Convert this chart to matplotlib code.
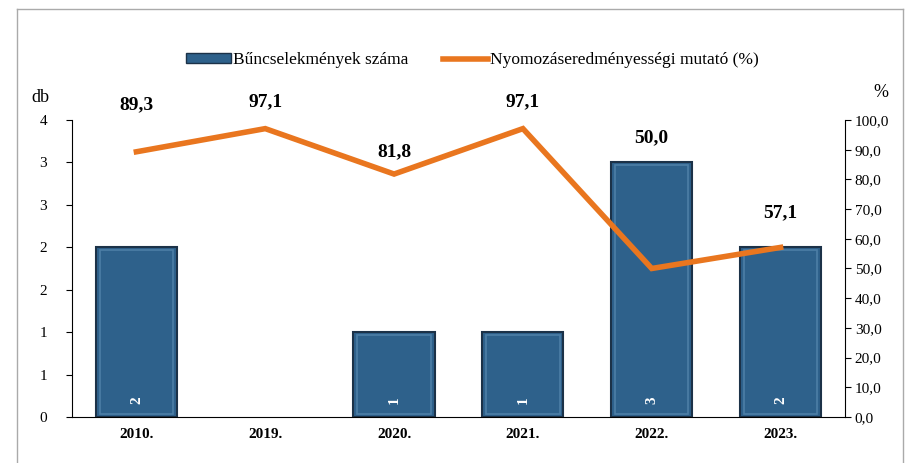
import matplotlib.pyplot as plt
import numpy as np
from matplotlib.patches import Rectangle
from matplotlib.lines import Line2D

# adatok
years = ["2010.", "2019.", "2020.", "2021.", "2022.", "2023."]
crimes = [2, 0, 1, 1, 3, 2]
rate = [89.3, 97.1, 81.8, 97.1, 50.0, 57.1]
left_ticks = [0, 0.5, 1, 1.5, 2, 2.5, 3, 3.5]
left_ticklabels = ["0", "1", "1", "2", "2", "3", "3", "4"]
right_ticks = [0, 10, 20, 30, 40, 50, 60, 70, 80, 90, 100]
# a vonal címkéinek eltolása (pont)
label_dy = [34, 19, 16, 19, 94, 25]

plt.rcParams['font.family'] = ['Liberation Serif', 'DejaVu Serif']

bar_col = '#2e618b'
line_col = '#e9761f'

fig = plt.figure(figsize=(9.08, 4.63), dpi=100)
ax = fig.add_axes([0.0793, 0.0994, 0.8513, 0.6414])
ax2 = ax.twinx()

x = np.arange(len(years))
lws = [1.5 if c > 0 else 0 for c in crimes]
bars = ax.bar(x, crimes, width=0.63, color=bar_col, edgecolor='#1c3248', linewidth=lws, zorder=2)
# kis "bevel" hatás
for b in bars:
    if b.get_height() > 0:
        bx, by = b.get_x(), b.get_y()
        w, h = b.get_width(), b.get_height()
        ax.add_patch(Rectangle((bx + 0.03, by + 0.03), w - 0.06, h - 0.06, fill=False,
                               edgecolor='#4d7ea6', linewidth=1.2, zorder=3))
        ax.text(b.get_x() + w / 2, 0.2, str(int(h)), rotation=90, color='white',
                ha='center', va='center', fontsize=11, fontweight='bold', zorder=4)

ax.set_xlim(-0.5, len(years) - 0.5)
ax.set_ylim(0, 3.5)
ax.set_yticks(left_ticks)
ax.set_yticklabels(left_ticklabels)
ax.set_xticks(x)
ax.set_xticklabels(years, fontweight='bold', fontsize=11)
ax.tick_params(axis='x', length=0, pad=8)
ax.tick_params(axis='y', labelsize=11, length=4, direction='out', pad=14)
ax.spines['top'].set_visible(False)
ax.spines['right'].set_visible(False)

ax2.plot(x, rate, color=line_col, linewidth=4, solid_joinstyle='miter', zorder=5)
ax2.set_ylim(0, 100)
ax2.set_yticks(right_ticks)
ax2.set_yticklabels([f"{v:.1f}".replace('.', ',') for v in right_ticks])
ax2.tick_params(axis='y', labelsize=11, length=4, direction='out', pad=3)
ax2.spines['top'].set_visible(False)
ax2.spines['left'].set_visible(False)
ax2.spines['bottom'].set_visible(False)
for xi, v, dy in zip(x, rate, label_dy):
    ax2.annotate(f"{v:.1f}".replace('.', ','), (xi, v), xytext=(0, dy), textcoords='offset points',
                 ha='center', va='center', fontsize=14, fontweight='bold')

fig.text(0.044, 0.79, "db", fontsize=13, ha='center', va='center')
fig.text(0.970, 0.80, "%", fontsize=13, ha='center', va='center')

handles = [Rectangle((0, 0), 1, 1, facecolor=bar_col, edgecolor='#1c3248'),
           Line2D([0], [0], color=line_col, linewidth=4)]
fig.legend(handles, ["Bűncselekmények száma", "Nyomozáseredményességi mutató (%)"],
           loc='center', bbox_to_anchor=(0.52, 0.87), ncol=2, frameon=False,
           fontsize=12.5, handlelength=2.6, handleheight=0.5, handletextpad=0.1,
           columnspacing=2.0)

# keret
fig.add_artist(Line2D([0.019, 0.019], [0, 0.98], color='#aaaaaa', linewidth=1))
fig.add_artist(Line2D([0.019, 0.995], [0.98, 0.98], color='#aaaaaa', linewidth=1))
fig.add_artist(Line2D([0.995, 0.995], [0, 0.98], color='#aaaaaa', linewidth=1))

fig.savefig('out.png', dpi=100)
